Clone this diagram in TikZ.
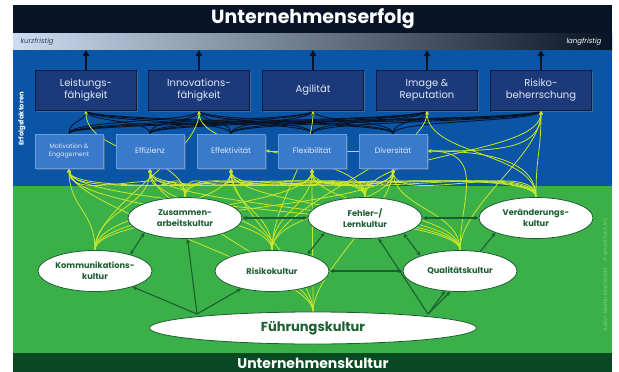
\documentclass[tikz,border=0pt]{standalone}
\usepackage{fontspec}
\setmainfont{Poppins}
\usetikzlibrary{calc,shapes.geometric,arrows.meta,shadows}

\definecolor{nachtblau}{RGB}{8,20,38}
\definecolor{hellgrau}{RGB}{205,220,240}
\definecolor{mittelgrau}{RGB}{125,145,180}
\definecolor{flaechenblau}{RGB}{10,85,165}
\definecolor{kastendunkel}{RGB}{28,58,122}
\definecolor{kastenrand}{RGB}{10,28,65}
\definecolor{kastenhell}{RGB}{58,122,202}
\definecolor{kastenhellrand}{RGB}{100,158,225}
\definecolor{kastentext}{RGB}{222,232,248}
\definecolor{wiesengruen}{RGB}{60,176,72}
\definecolor{tannengruen}{RGB}{8,72,34}
\definecolor{kulturgruen}{RGB}{25,95,48}
\definecolor{limette}{RGB}{200,232,45}
\definecolor{autorgruen}{RGB}{125,208,125}

\pgfdeclarelayer{flaeche}
\pgfdeclarelayer{linien}
\pgfsetlayers{flaeche,linien,main}

\def\faktor{\node[faktor]}
\def\treiber{\node[treiber]}
\def\kultur{\node[kultur]}
\def\drawband{\draw[band]}
\def\drawlime{\draw[einfluss]}
\def\drawgruen{\draw[wirkung]}

\begin{document}
\begin{tikzpicture}[x=1pt,y=-1pt,
  faktor/.style={rectangle,fill=kastendunkel,draw=kastenrand,line width=1pt,
    minimum width=101pt,minimum height=40pt,text=kastentext,align=center,
    font=\fontsize{10}{12}\selectfont,
    drop shadow={shadow xshift=1.5pt,shadow yshift=-1.5pt,opacity=0.5}},
  treiber/.style={rectangle,fill=kastenhell,draw=kastenhellrand,line width=0.8pt,
    minimum width=68pt,minimum height=34pt,text=kastentext,align=center,
    font=\fontsize{7.8}{9}\selectfont,
    drop shadow={shadow xshift=1.5pt,shadow yshift=-1.5pt,opacity=0.5}},
  kultur/.style={ellipse,fill=white,draw=kulturgruen,line width=0.8pt,inner sep=0pt,
    minimum width=114pt,minimum height=41pt,text=kulturgruen,align=center,
    font=\bfseries\fontsize{8.3}{11}\selectfont},
  titel/.style={text=white,font=\bfseries\fontsize{19}{20}\selectfont},
  hinweis/.style={font=\itshape\fontsize{7}{8}\selectfont},
  aufwaerts/.style={draw=nachtblau,line width=1.6pt,-{Triangle[length=6pt,width=6.5pt]}},
  band/.style={draw=nachtblau,line width=0.9pt},
  einfluss/.style={draw=limette,line width=0.8pt,-{Stealth[length=4pt,width=3.6pt]}},
  wirkung/.style={draw=kulturgruen,line width=1.1pt,>={Stealth[length=4.5pt,width=4pt]}}]

\useasboundingbox (0,0) rectangle (619,372);
\begin{pgfonlayer}{flaeche}
\fill[white] (0,0) rectangle (619,372);
\fill[nachtblau] (13,5) rectangle (612,33);
\shade[left color=hellgrau,middle color=mittelgrau,right color=nachtblau] (13,33) rectangle (612,50);
\fill[flaechenblau] (13,50) rectangle (612,186);
\fill[wiesengruen] (13,186) rectangle (612,353);
\fill[tannengruen] (13,353) rectangle (612,372);
\end{pgfonlayer}

\node[titel] (erfolg) at (313,19) {Unternehmenserfolg};
\node[hinweis,anchor=west,text=nachtblau!80] (kurz) at (17,42) {kurzfristig};
\node[hinweis,anchor=east,text=white] (lang) at (605,42) {langfristig};
\coordinate (horizont) at (0,50);

% Erfolgsfaktoren, obere Reihe
\faktor (leist) at (86,90) {Leistungs-\\fähigkeit};
\faktor (innov) at (199,90) {Innovations-\\fähigkeit};
\faktor (agil) at (313,90) {Agilität};
\faktor (image) at (427,90) {Image \&\\Reputation};
\faktor (risbeh) at (541,90) {Risiko-\\beherrschung};
\foreach \f in {leist,innov,agil,image,risbeh}
  \draw[aufwaerts] (\f.north) -- (\f.north |- horizont);

% Treiber, untere Reihe
\treiber[font=\fontsize{6.2}{7.6}\selectfont] (mot) at (69,151) {Motivation \&\\Engagement};
\treiber (eff) at (150,151) {Effizienz};
\treiber (effk) at (231,151) {Effektivität};
\treiber (flex) at (312,151) {Flexibilität};
\treiber (div) at (393,151) {Diversität};
\node[rotate=90,text=white,font=\bfseries\fontsize{6.8}{7}\selectfont] (seite) at (22,119) {Erfolgsfaktoren};

% Kulturen
\kultur (zus) at (185,218) {Zusammen-\\arbeitskultur};
\kultur (fehler) at (365,218) {Fehler-/\\Lernkultur};
\kultur (ver) at (536,218) {Veränderungs-\\kultur};
\kultur (komm) at (95,271) {Kommunikations-\\kultur};
\kultur (risk) at (272,271) {Risikokultur};
\kultur (qual) at (460,271) {Qualitätskultur};
\kultur[minimum width=327pt,minimum height=32pt,font=\bfseries\fontsize{13}{14}\selectfont] (fuehr) at (313,328) {Führungskultur};
\node[titel,font=\bfseries\fontsize{14}{15}\selectfont] (unten) at (313,363) {Unternehmenskultur};
\node[rotate=90,text=autorgruen,font=\fontsize{5.4}{6}\selectfont] (autor) at (605,275) {Autor: Martin Machinski \quad© smart fact AG};

\begin{pgfonlayer}{linien}
% dunkles Band zwischen den Reihen
\foreach \t in {mot,eff,effk,flex,div}
  \foreach \f in {leist,innov,agil,image,risbeh}
    \drawband (\t.north) .. controls +(0,-14) and +(0,12) .. (\f.south);
% Einfluesse der Kulturen
\foreach \k in {komm,zus,risk,fehler,qual,ver,fuehr}
  \foreach \t in {mot,eff,effk,flex,div}
    \drawlime (\k.north) .. controls +(0,-40) and +(0,40) .. (\t.south);
\foreach \k/\f in {zus/leist,komm/innov,fehler/innov,risk/agil,ver/image,risk/image,qual/risbeh,ver/risbeh,fehler/risbeh}
  \drawlime (\k.north) .. controls +(0,-45) and +(0,45) .. (\f.south);
\drawlime (div.east) .. controls +(70,0) and +(0,40) .. (risbeh.south);
\drawlime (ver.north) .. controls +(0,-40) and +(50,0) .. (div.east);
\drawlime (qual.north) .. controls +(0,-50) and +(60,0) .. (div.east);
\drawlime (flex.west) -- (effk.east);
\draw[einfluss,-] (div.west) -- (flex.east);
\end{pgfonlayer}

% Wirkungen zwischen den Kulturen
\coordinate (fuehrL) at (197,314);
\coordinate (fuehrR) at (428,314);
\drawgruen[<->] (zus) -- (fehler);
\drawgruen[<->] (fehler) -- (ver);
\drawgruen[<->] (komm.25) -- (zus.200);
\drawgruen[<->] (risk.25) -- (fehler.200);
\drawgruen[<->] (risk) -- (qual);
\drawgruen[<->] (fehler.338) -- (qual.159);
\drawgruen[->] (qual.44) -- (ver.200);
\foreach \k in {komm,zus,risk}
  \drawgruen[->] (fuehrL) -- (\k);
\drawgruen[->] (fuehrR) -- (fehler);
\drawgruen[->] (fuehrR) -- (qual);
\drawgruen[->] (fuehrR) -- (qual.245);
\end{tikzpicture}
\end{document}
